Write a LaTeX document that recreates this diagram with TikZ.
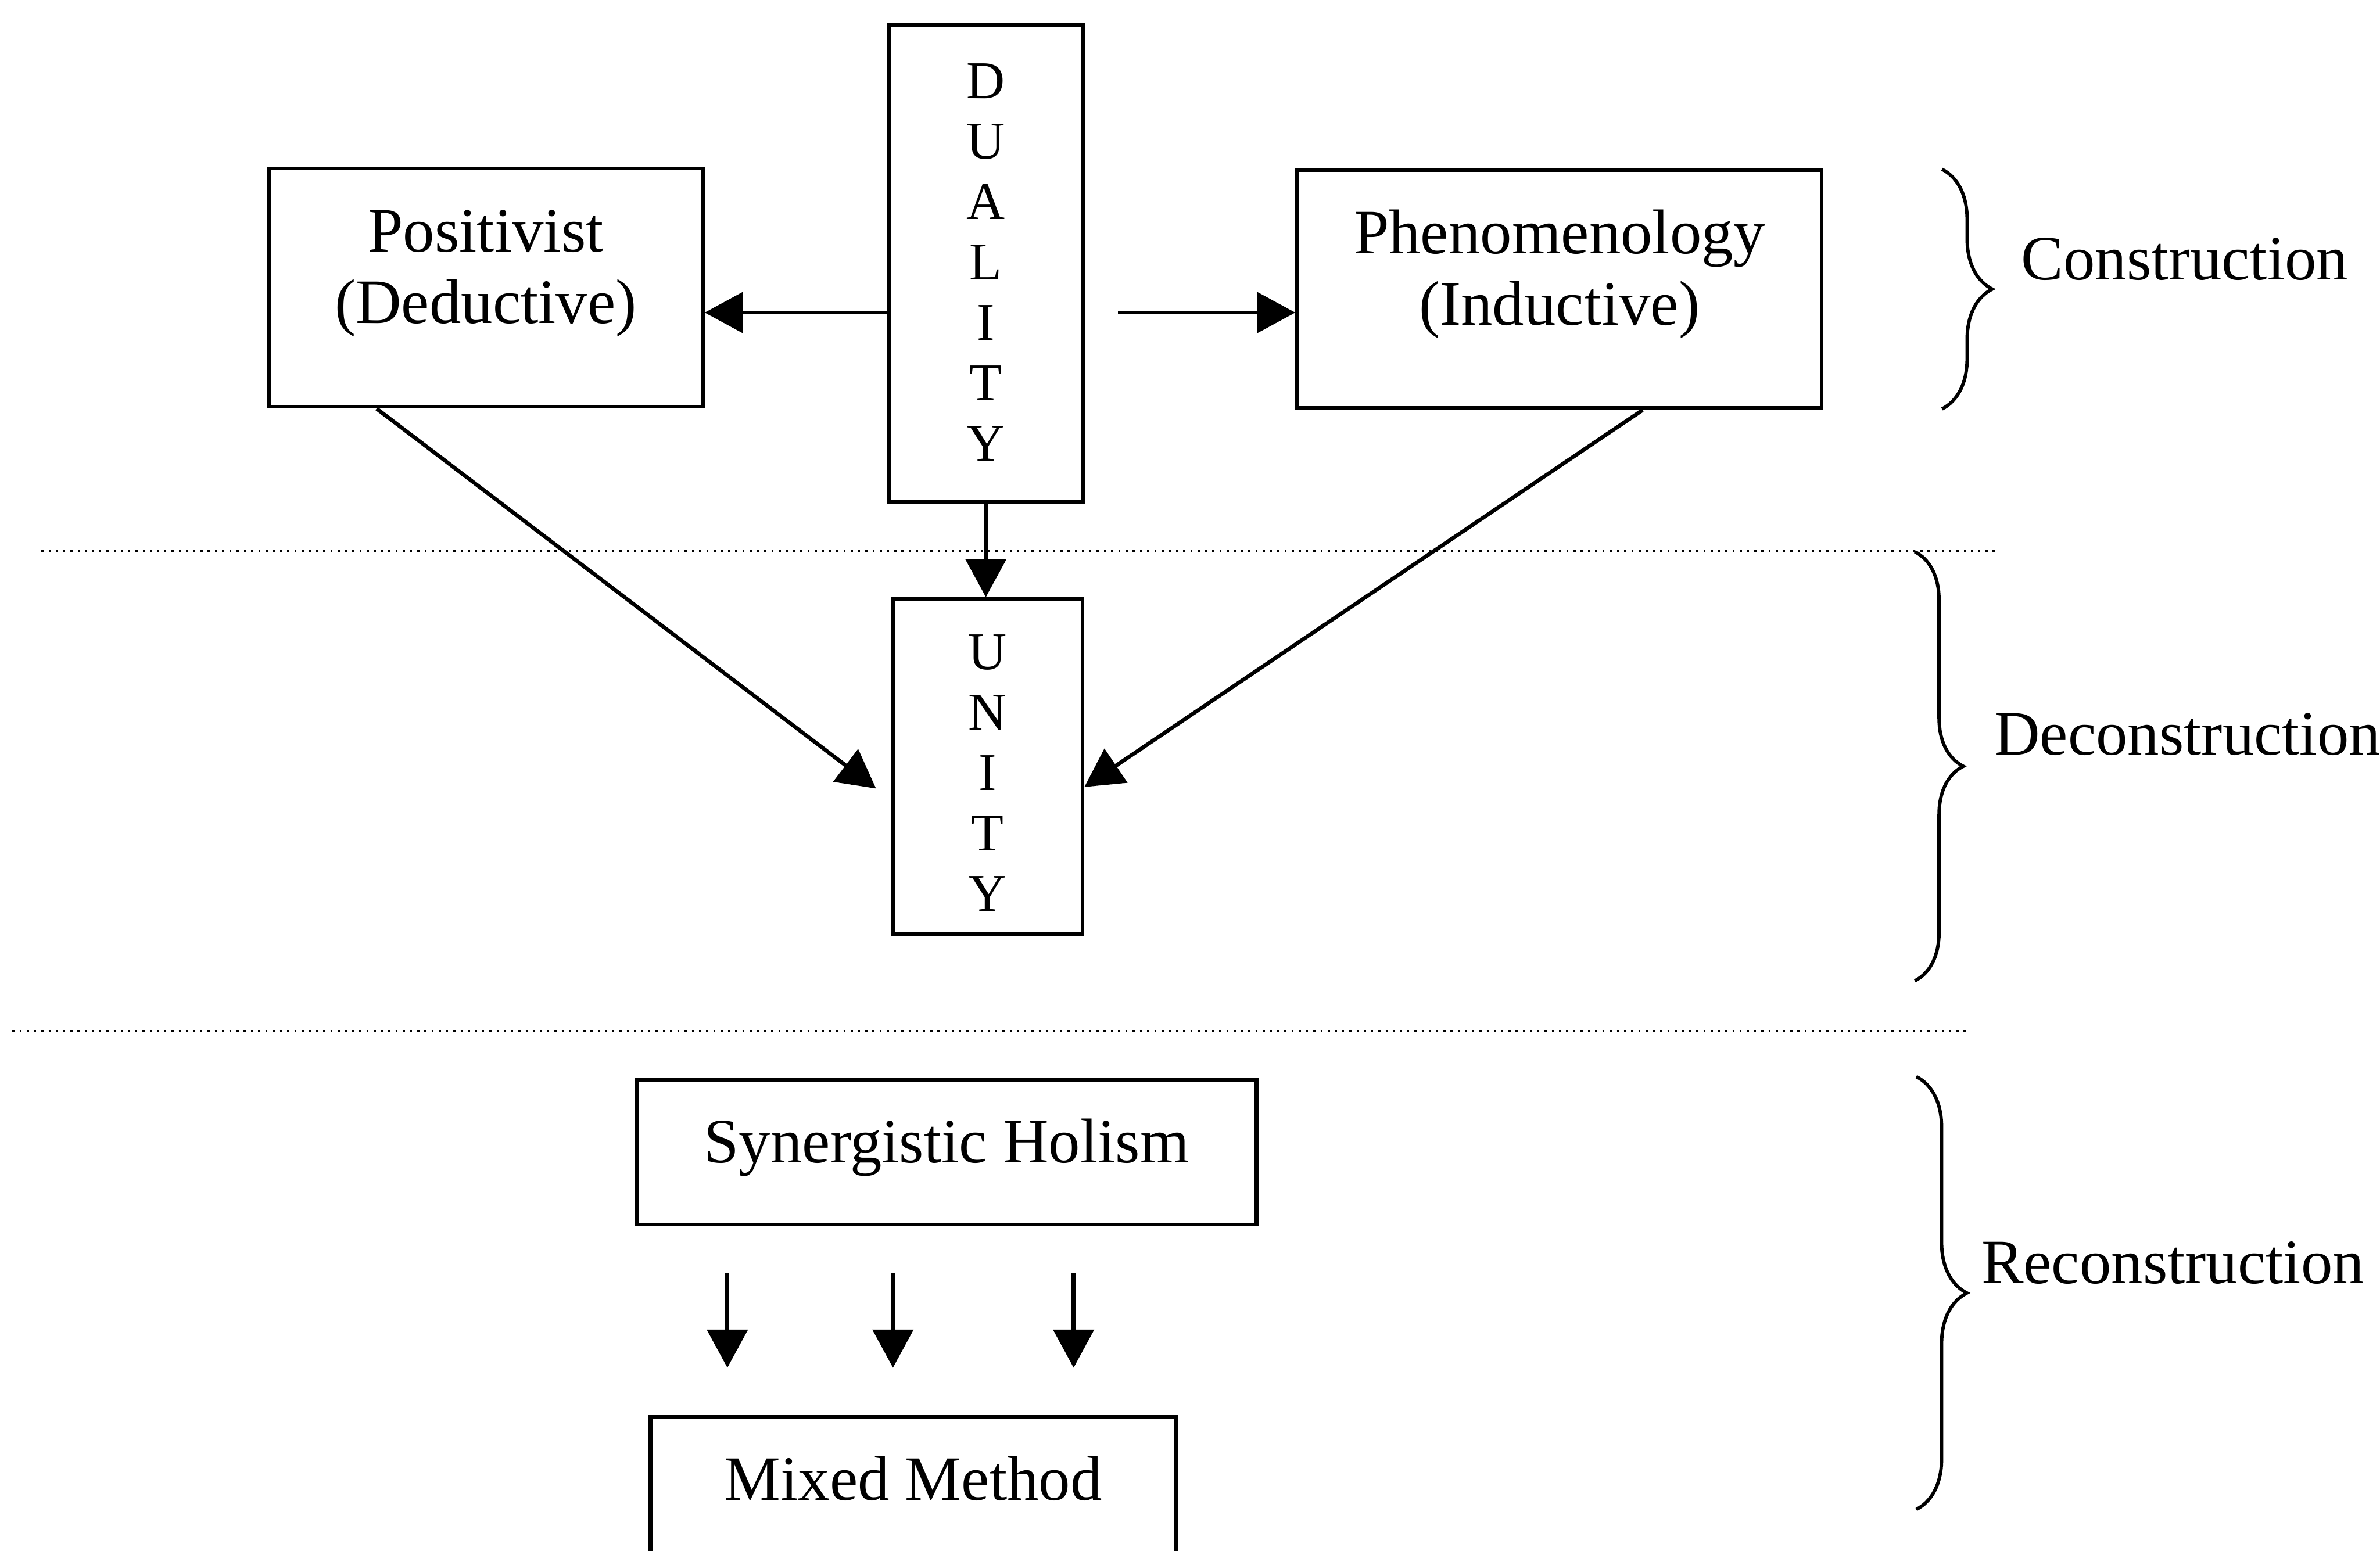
\documentclass[tikz,border=0pt]{standalone}
\usepackage{fontspec}
\setmainfont{Liberation Serif}
\usetikzlibrary{arrows.meta, positioning, calc, decorations.pathreplacing}

\begin{document}
\begin{tikzpicture}[
    box/.style={rectangle, draw, line width=1.5pt, font=\fontsize{24.5}{27.6}\selectfont, align=center, inner xsep=0.2cm, inner ysep=0.5cm, text height=0.635cm},
    letters/.style={rectangle, draw, line width=1.5pt, font=\fontsize{20.6}{23.4}\selectfont, align=center, inner ysep=0.3cm},
    phase/.style={font=\fontsize{24.5}{27.6}\selectfont, inner sep=0pt, anchor=base west},
    brc/.style={decorate, decoration={brace, amplitude=#1}, line width=1.3pt},
    divider/.style={line width=0.8pt, dash pattern=on 0.8pt off 2pt},
    arr/.style={-{Triangle[length=0.52cm, width=0.55cm]}, line width=1.5pt}
]
\useasboundingbox (0,0) rectangle (32.41,-21.12);
\clip (0,0) rectangle (32.41,-21.12);

% Construction
\node[box, minimum width=5.91cm, minimum height=3.245cm, text height=1.609cm, text depth=0.636cm] (pos) at (6.615,-3.917) {Positivist\\(Deductive)};
\node[letters, minimum width=2.64cm, minimum height=6.505cm, text height=5.643cm, text depth=0.262cm] (dual) at (13.425,-3.5875) {D\\U\\A\\L\\I\\T\\Y};
\node[box, minimum width=7.14cm, minimum height=3.245cm, text height=1.609cm, text depth=0.636cm] (phen) at (21.235,-3.9375) {Phenomenology\\(Inductive)};

% Deconstruction
\node[letters, minimum width=2.585cm, minimum height=4.56cm, text height=3.95cm, text depth=0.01cm] (unity) at (13.4475,-10.44) {U\\N\\I\\T\\Y};

% Reconstruction
\node[box, minimum width=8.44cm, minimum height=1.975cm, text depth=0.34cm] (syn) at (12.89,-15.693) {Synergistic Holism};
\node[box, anchor=north, minimum width=7.15cm, text depth=1.5cm] (mix) at (12.435,-19.275) {Mixed Method};

% Dividers
\draw[divider] (0.565,-7.5) -- (27.195,-7.5);
\draw[divider] (0.17,-14.04) -- (26.775,-14.04);

% Phase braces
\draw[brc=0.685cm] (26.445,-2.305) -- (26.445,-5.57);
\draw[brc=0.66cm] (26.075,-7.515) -- (26.075,-13.36);
\draw[brc=0.69cm] (26.095,-14.665) -- (26.095,-20.56);
\node[phase] (con) at (27.52,-3.81) {Construction};
\node[phase] (decon) at (27.15,-10.28) {Deconstruction};
\node[phase] (recon) at (26.975,-17.485) {Reconstruction};

% Arrows
\coordinate (dl) at ([yshift=-0.67cm]dual.west);
\coordinate (dr) at ([shift={(0.45cm,-0.67cm)}]dual.east);
\draw[arr] (dl) -- (dl -| pos.east);
\draw[arr] (dr) -- (dr -| phen.west);
\draw[arr] (dual.south) -- (dual.south |- unity.north);

\coordinate (ul) at ([shift={(-0.2cm,-0.3cm)}]unity.west);
\coordinate (ur) at ([yshift=-0.28cm]unity.east);
\draw[arr] ([xshift=1.495cm]pos.south west) -- (ul);
\draw[arr] ([xshift=-2.465cm]phen.south east) -- (ur);

\foreach \x in {9.905,12.16,14.62}
    \draw[arr] ($(\x,0 |- syn.south)+(0,-0.635)$) -- ($(\x,0 |- mix.north)+(0,0.645)$);
\end{tikzpicture}
\end{document}
